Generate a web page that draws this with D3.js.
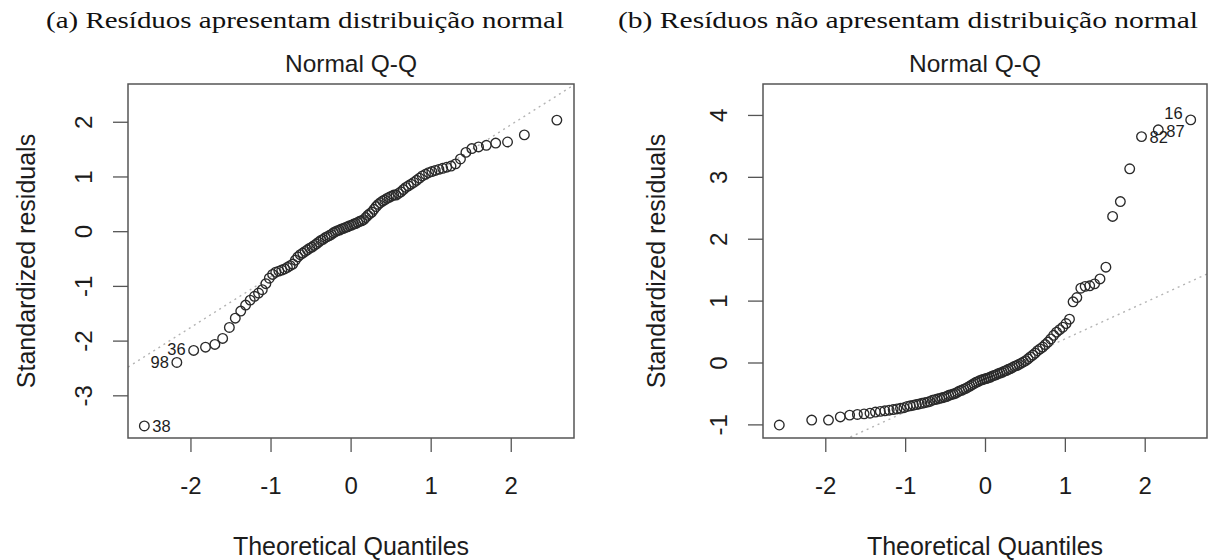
<!DOCTYPE html>
<html>
<head>
<meta charset="utf-8">
<script src="https://cdn.jsdelivr.net/npm/d3@7"></script>
<style>
  body { margin: 0; background: #fff; }
  svg { display: block; }
  .sans { font-family: "Liberation Sans", Arial, Helvetica, sans-serif; fill: #1c1c1c; }
  .serif { font-family: "Liberation Serif", "Times New Roman", serif; fill: #111; }
</style>
</head>
<body>
<div id="chart"></div>
<script>
// Captions and titles
const captions = [
  "(a) Resíduos apresentam distribuição normal",
  "(b) Resíduos não apresentam distribuição normal"
];
const plotTitle = "Normal Q-Q";
const xLabel = "Theoretical Quantiles";
const yLabel = "Standardized residuals";

// Theoretical quantiles (n = 100), shared by both plots
const quantiles = [
  -2.576, -2.170, -1.960, -1.812, -1.695, -1.598, -1.514, -1.440, -1.372, -1.311,
  -1.254, -1.200, -1.150, -1.103, -1.058, -1.015, -0.974, -0.935, -0.896, -0.860,
  -0.824, -0.789, -0.755, -0.722, -0.690, -0.659, -0.628, -0.598, -0.568, -0.539,
  -0.510, -0.482, -0.454, -0.426, -0.399, -0.372, -0.345, -0.319, -0.292, -0.266,
  -0.240, -0.215, -0.189, -0.164, -0.138, -0.113, -0.088, -0.063, -0.038, -0.013,
  0.013, 0.038, 0.063, 0.088, 0.113, 0.138, 0.164, 0.189, 0.215, 0.240,
  0.266, 0.292, 0.319, 0.345, 0.372, 0.399, 0.426, 0.454, 0.482, 0.510,
  0.539, 0.568, 0.598, 0.628, 0.659, 0.690, 0.722, 0.755, 0.789, 0.824,
  0.860, 0.896, 0.935, 0.974, 1.015, 1.058, 1.103, 1.150, 1.200, 1.254,
  1.311, 1.372, 1.440, 1.514, 1.598, 1.695, 1.812, 1.960, 2.170, 2.576
];

// (a) sorted standardized residuals
const residualsA = [
  -3.56, -2.40, -2.18, -2.12, -2.07, -1.96, -1.76, -1.59, -1.46, -1.35,
  -1.26, -1.19, -1.13, -1.07, -0.96, -0.86, -0.79, -0.75, -0.73, -0.71,
  -0.69, -0.66, -0.63, -0.60, -0.53, -0.47, -0.43, -0.40, -0.37, -0.34,
  -0.31, -0.29, -0.26, -0.23, -0.20, -0.17, -0.15, -0.12, -0.10, -0.08,
  -0.06, -0.03, -0.01, 0.01, 0.02, 0.04, 0.05, 0.07, 0.08, 0.10,
  0.11, 0.13, 0.14, 0.16, 0.18, 0.19, 0.21, 0.25, 0.29, 0.32,
  0.35, 0.40, 0.45, 0.49, 0.52, 0.55, 0.57, 0.60, 0.62, 0.64,
  0.66, 0.66, 0.69, 0.72, 0.76, 0.80, 0.83, 0.86, 0.89, 0.93,
  0.97, 1.01, 1.04, 1.07, 1.09, 1.11, 1.13, 1.15, 1.17, 1.19,
  1.23, 1.32, 1.44, 1.51, 1.54, 1.57, 1.61, 1.63, 1.76, 2.03
];

// (b) sorted standardized residuals
const residualsB = [
  -1.01, -0.93, -0.93, -0.88, -0.85, -0.84, -0.83, -0.82, -0.80, -0.79,
  -0.78, -0.77, -0.76, -0.75, -0.74, -0.73, -0.71, -0.70, -0.69, -0.68,
  -0.67, -0.66, -0.65, -0.64, -0.63, -0.61, -0.60, -0.59, -0.58, -0.57,
  -0.56, -0.55, -0.53, -0.52, -0.51, -0.50, -0.48, -0.46, -0.45, -0.43,
  -0.42, -0.40, -0.38, -0.36, -0.34, -0.32, -0.31, -0.29, -0.28, -0.27,
  -0.26, -0.25, -0.24, -0.22, -0.21, -0.20, -0.18, -0.17, -0.16, -0.14,
  -0.13, -0.11, -0.10, -0.08, -0.06, -0.05, -0.03, -0.01, 0.01, 0.03,
  0.06, 0.09, 0.12, 0.15, 0.19, 0.22, 0.25, 0.29, 0.33, 0.38,
  0.44, 0.49, 0.53, 0.57, 0.63, 0.70, 0.98, 1.05, 1.20, 1.23,
  1.24, 1.27, 1.35, 1.54, 2.36, 2.60, 3.13, 3.65, 3.76, 3.92
];

// qq reference lines: [intercept, slope]
const qqlineA = [0.09, 0.926];
const qqlineB = [-0.21, 0.59];

// labelled observations: id and index in the sorted sample
const labelsA = [{ id: "38", i: 0 }, { id: "98", i: 1 }, { id: "36", i: 2 }];
const labelsB = [{ id: "82", i: 97 }, { id: "87", i: 98 }, { id: "16", i: 99 }];

const xTicks = [-2, -1, 0, 1, 2];
const yTicksA = [-3, -2, -1, 0, 1, 2];
const yTicksB = [-1, 0, 1, 2, 3, 4];

// ---- drawing ----
const width = 1209, height = 560;
const svg = d3.select("#chart").append("svg")
  .attr("width", width)
  .attr("height", height);

const panels = [
  {
    caption: captions[0], res: residualsA, line: qqlineA, labels: labelsA, yTicks: yTicksA,
    left: 128, right: 574, xDomain: [-2.78, 2.79], yDomain: [-3.78, 2.69],
    capX: 305, capLen: 518, titleX: 351, yLabOff: -93,
    labelSide: { "38": "r", "98": "l", "36": "l" }
  },
  {
    caption: captions[1], res: residualsB, line: qqlineB, labels: labelsB, yTicks: yTicksB,
    left: 763, right: 1207, xDomain: [-2.78, 2.78], yDomain: [-1.22, 4.50],
    capX: 908, capLen: 580, titleX: 975, yLabOff: -98,
    labelSide: { "82": "r", "87": "r", "16": "l" }
  }
];

const plotTop = 84, plotBottom = 438;
// small vertical nudges for crowded labels
const labelNudge = { "16": -7, "87": 1, "36": -1 };

panels.forEach((p, k) => {
  const x = d3.scaleLinear().domain(p.xDomain).range([p.left, p.right]);
  const y = d3.scaleLinear().domain(p.yDomain).range([plotBottom, plotTop]);
  const g = svg.append("g");

  // caption above the figure
  g.append("text")
    .attr("class", "serif")
    .attr("x", p.capX)
    .attr("y", 28)
    .attr("text-anchor", "middle")
    .attr("font-size", 24)
    .attr("textLength", p.capLen)
    .attr("lengthAdjust", "spacingAndGlyphs")
    .text(p.caption);

  // plot title
  g.append("text")
    .attr("class", "sans")
    .attr("x", p.titleX)
    .attr("y", 72)
    .attr("text-anchor", "middle")
    .attr("font-size", 24.5)
    .text(plotTitle);

  // clip for the reference line
  const clipId = "clip" + k;
  svg.append("clipPath").attr("id", clipId)
    .append("rect")
    .attr("x", p.left).attr("y", plotTop)
    .attr("width", p.right - p.left).attr("height", plotBottom - plotTop);

  const [a, b] = p.line;
  g.append("line")
    .attr("clip-path", `url(#${clipId})`)
    .attr("x1", x(p.xDomain[0])).attr("y1", y(a + b * p.xDomain[0]))
    .attr("x2", x(p.xDomain[1])).attr("y2", y(a + b * p.xDomain[1]))
    .attr("stroke", "#b4b4b4")
    .attr("stroke-width", 1.4)
    .attr("stroke-dasharray", "2,4");

  // points
  g.append("g")
    .selectAll("circle")
    .data(p.res)
    .enter()
    .append("circle")
    .attr("cx", (d, i) => x(quantiles[i]))
    .attr("cy", d => y(d))
    .attr("r", 4.8)
    .attr("fill", "none")
    .attr("stroke", "#2a2a2a")
    .attr("stroke-width", 1.35);

  // point labels
  g.append("g")
    .selectAll("text")
    .data(p.labels)
    .enter()
    .append("text")
    .attr("class", "sans")
    .attr("font-size", 16.5)
    .attr("x", d => x(quantiles[d.i]) + (p.labelSide[d.id] === "r" ? 8 : -8))
    .attr("y", d => y(p.res[d.i]) + (labelNudge[d.id] || 0))
    .attr("dy", "0.36em")
    .attr("text-anchor", d => p.labelSide[d.id] === "r" ? "start" : "end")
    .text(d => d.id);

  // box
  g.append("rect")
    .attr("x", p.left).attr("y", plotTop)
    .attr("width", p.right - p.left).attr("height", plotBottom - plotTop)
    .attr("fill", "none")
    .attr("stroke", "#555")
    .attr("stroke-width", 1.5);

  // x axis
  const xa = g.append("g")
    .attr("transform", `translate(0,${plotBottom})`)
    .call(d3.axisBottom(x).tickValues(xTicks).tickSize(14).tickFormat(d => String(d)));
  xa.select(".domain").remove();
  xa.selectAll(".tick line").attr("stroke", "#555").attr("stroke-width", 1.3);
  xa.selectAll(".tick text")
    .attr("class", "sans")
    .attr("font-size", 24)
    .attr("y", 56)
    .attr("dy", 0);

  // y axis, labels parallel to the axis
  const ya = g.append("g")
    .attr("transform", `translate(${p.left},0)`)
    .call(d3.axisLeft(y).tickValues(p.yTicks).tickSize(15).tickFormat(d => String(d)));
  ya.select(".domain").remove();
  ya.selectAll(".tick line").attr("stroke", "#555").attr("stroke-width", 1.3);
  ya.selectAll(".tick text")
    .attr("class", "sans")
    .attr("font-size", 24)
    .attr("x", 0)
    .attr("dy", 0)
    .attr("text-anchor", "middle")
    .attr("transform", "translate(-36,0) rotate(-90)");

  // axis titles
  g.append("text")
    .attr("class", "sans")
    .attr("x", (p.left + p.right) / 2)
    .attr("y", 555)
    .attr("text-anchor", "middle")
    .attr("font-size", 25)
    .text(xLabel);

  g.append("text")
    .attr("class", "sans")
    .attr("text-anchor", "middle")
    .attr("font-size", 25)
    .attr("transform", `translate(${p.left + p.yLabOff},${(plotTop + plotBottom) / 2}) rotate(-90)`)
    .text(yLabel);
});
</script>
</body>
</html>
